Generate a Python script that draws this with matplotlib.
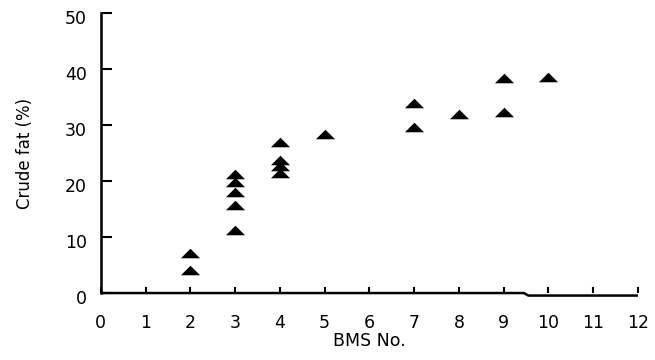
import numpy as np
import matplotlib.pyplot as plt
import matplotlib.transforms as mtransforms

# Crude fat content for each BMS number
bms_no = [2, 2,
          3, 3, 3, 3, 3,
          4, 4, 4, 4,
          5,
          7, 7,
          8,
          9, 9,
          10]
crude_fat = [7.1, 4.2,
             21.2, 19.8, 18.1, 15.7, 11.2,
             27.0, 23.7, 22.6, 21.5,
             28.4,
             34.0, 29.7,
             32.0,
             38.3, 32.4,
             38.6]

x_ticks = list(range(0, 13))
y_ticks = [0, 10, 20, 30, 40, 50]

plt.rcParams['font.family'] = ['DejaVu Sans']

fig = plt.figure(figsize=(6.55, 3.6), dpi=100)
ax = fig.add_axes([0.154, 0.186, 0.82, 0.778])

# flat triangle marker
tri = [(-1, -0.5), (1, -0.5), (0, 0.5), (-1, -0.5)]
ax.scatter(bms_no, crude_fat, marker=tri, s=190, color="black", linewidths=0, zorder=3)

ax.set_xlim(0, 12)
ax.set_ylim(0, 50)
ax.set_xticks(x_ticks)
ax.set_yticks(y_ticks)

ax.spines['top'].set_visible(False)
ax.spines['right'].set_visible(False)
ax.spines['bottom'].set_visible(False)
ax.spines['left'].set_linewidth(1.8)

# bottom axis line with a small step after 9
ax.plot([0, 9.45, 9.55, 12], [0, 0, -0.45, -0.45], color="black", lw=1.8,
        clip_on=False, zorder=2, solid_capstyle="butt")

ax.tick_params(axis='x', direction='in', length=4, width=1.5, pad=15, labelsize=12.5)
ax.tick_params(axis='y', direction='in', length=8, width=1.5, pad=10, labelsize=12.5)

offset = mtransforms.ScaledTranslation(0, -4 / 100, fig.dpi_scale_trans)
for lab in ax.get_yticklabels():
    lab.set_transform(lab.get_transform() + offset)

ax.set_xlabel("BMS No.", fontsize=12.5, labelpad=0)
ax.set_ylabel("Crude fat (%)", fontsize=12, labelpad=22)

fig.savefig("out.png", dpi=100)
